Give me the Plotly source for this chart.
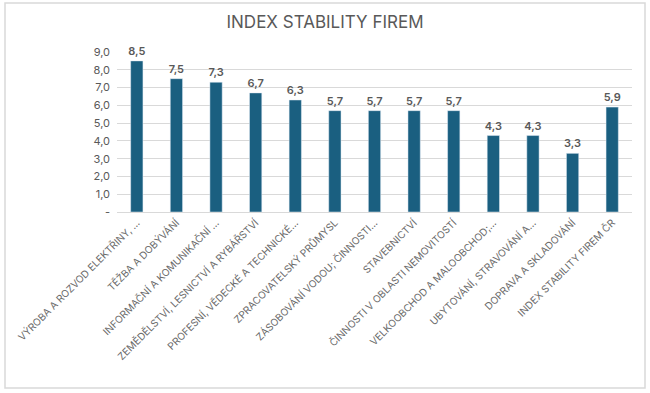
import plotly.graph_objects as go

categories = [
    "VÝROBA A ROZVOD ELEKTŘINY, …",
    "TĚŽBA A DOBÝVÁNÍ",
    "INFORMAČNÍ A KOMUNIKAČNÍ …",
    "ZEMĚDĚLSTVÍ, LESNICTVÍ A RYBÁŘSTVÍ",
    "PROFESNÍ, VĚDECKÉ A TECHNICKÉ…",
    "ZPRACOVATELSKÝ PRŮMYSL",
    "ZÁSOBOVÁNÍ VODOU; ČINNOSTI…",
    "STAVEBNICTVÍ",
    "ČINNOSTI V OBLASTI NEMOVITOSTÍ",
    "VELKOOBCHOD A MALOOBCHOD;…",
    "UBYTOVÁNÍ, STRAVOVÁNÍ A…",
    "DOPRAVA A SKLADOVÁNÍ",
    "INDEX STABILITY FIREM ČR",
]
values = [8.5, 7.5, 7.3, 6.7, 6.3, 5.7, 5.7, 5.7, 5.7, 4.3, 4.3, 3.3, 5.9]
y_tickvals = [0, 1, 2, 3, 4, 5, 6, 7, 8, 9]
y_ticktext = ["-", "1,0", "2,0", "3,0", "4,0", "5,0", "6,0", "7,0", "8,0", "9,0"]

labels = [f"{v:.1f}".replace(".", ",") for v in values]

FONT = "Inter, Open Sans, sans-serif"

fig = go.Figure(
    go.Bar(
        x=categories,
        y=values,
        marker_color="#1a5f80",
        text=labels,
        textposition="outside",
        constraintext="none",
        textfont=dict(family=FONT, size=11, color="#595959", weight=600),
        cliponaxis=False,
    )
)

L, R, T, B = 117, 18, 52, 181
W, H = 650, 393
pw = W - L - R
ph = H - T - B

def px_x(p):
    return (p - L) / pw

def px_y(p):
    return (H - B - p) / ph

fig.update_layout(
    width=W,
    height=H,
    margin=dict(l=L, r=R, t=T, b=B),
    paper_bgcolor="white",
    plot_bgcolor="white",
    bargap=0.69,
    showlegend=False,
    title=dict(
        text="INDEX STABILITY FIREM",
        x=0.5,
        xanchor="center",
        y=1 - 22 / H,
        yanchor="middle",
        font=dict(family=FONT, size=17, color="#595959"),
    ),
    xaxis=dict(
        tickangle=-45,
        automargin=False,
        tickfont=dict(family=FONT, size=10, color="#6a6a6a"),
        showline=True,
        linecolor="#d9d9d9",
        ticks="",
        showgrid=False,
    ),
    yaxis=dict(
        range=[0, 9],
        automargin=False,
        tickvals=y_tickvals,
        ticktext=y_ticktext,
        tickfont=dict(family=FONT, size=11, color="#595959"),
        showgrid=True,
        gridcolor="#d9d9d9",
        zeroline=False,
        ticks="",
        ticklabelstandoff=6,
    ),
    shapes=[
        dict(
            type="rect",
            xref="paper",
            yref="paper",
            x0=px_x(5),
            x1=px_x(645),
            y0=px_y(388),
            y1=px_y(3),
            line=dict(color="#d9d9d9", width=1.5),
            fillcolor="rgba(0,0,0,0)",
            layer="below",
        )
    ],
)

fig.write_html(
    "out.html",
    config={"displayModeBar": False},
    post_script="document.body.style.margin='0';document.body.style.overflow='hidden';",
)
